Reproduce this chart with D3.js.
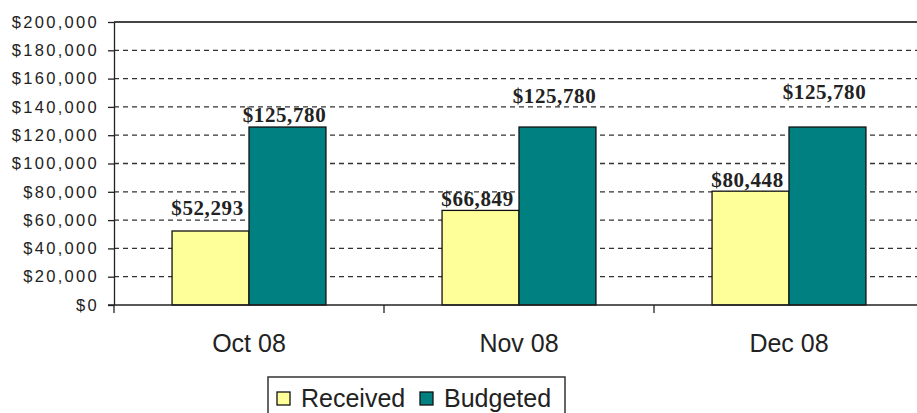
<!DOCTYPE html>
<html>
<head>
<meta charset="utf-8">
<script src="https://cdn.jsdelivr.net/npm/d3@7"></script>
<style>
  body { margin: 0; background: #fff; }
  svg { display: block; }
</style>
</head>
<body>
<svg id="chart" width="917" height="413"></svg>
<script>
// values
const months = ["Oct 08", "Nov 08", "Dec 08"];
const received = [52293, 66849, 80448];
const budgeted = [125780, 125780, 125780];
const seriesNames = ["Received", "Budgeted"];
const yTicks = [0, 20000, 40000, 60000, 80000, 100000, 120000, 140000, 160000, 180000, 200000];

const colors = ["#ffff99", "#008080"];
// excel put the value labels at slightly different heights above the bars
const labelLift = [[16, 5], [4, 24], [4, 28]];

const svg = d3.select("#chart"),
      m = {top: 22, left: 114, bottom: 305, right: 924};

const x = d3.scaleBand().domain(months).range([m.left, m.right])
    .paddingInner(0.43).paddingOuter(0.215);
const xs = d3.scaleBand().domain(seriesNames).range([0, x.bandwidth()]);
const y = d3.scaleLinear().domain([0, 200000]).range([m.bottom, m.top]);
const fmt = d3.format("$,");

// grid
svg.append("g").selectAll("line").data(yTicks.filter(d => d > 0 && d < 200000)).enter().append("line")
    .attr("x1", m.left).attr("x2", m.right)
    .attr("y1", d => y(d)).attr("y2", d => y(d))
    .attr("stroke", "#333").attr("stroke-width", 1.3).attr("stroke-dasharray", "5,4");
svg.append("line").attr("x1", m.left).attr("x2", m.right)
    .attr("y1", y(200000)).attr("y2", y(200000))
    .attr("stroke", "#444").attr("stroke-width", 2);

// y axis
const ya = svg.append("g").attr("transform", "translate(" + m.left + ",0)")
    .call(d3.axisLeft(y).tickValues(yTicks).tickFormat(fmt).tickSize(6).tickSizeOuter(0).tickPadding(9));
ya.select(".domain").attr("stroke", "#222").attr("stroke-width", 1.3);
ya.selectAll(".tick line").attr("stroke", "#222").attr("stroke-width", 1.3);
ya.selectAll("text").attr("font-family", "Liberation Sans, Arial, sans-serif")
    .attr("font-size", 16.5).attr("letter-spacing", 2.3).attr("fill", "#222");

// bars
const rows = months.map((mo, i) => ({month: mo, vals: [received[i], budgeted[i]], i: i}));
const grp = svg.append("g").selectAll("g").data(rows).enter().append("g")
    .attr("transform", d => "translate(" + x(d.month) + ",0)");
grp.selectAll("rect").data(d => d.vals.map((v, j) => ({v: v, j: j, i: d.i}))).enter().append("rect")
    .attr("x", d => xs(seriesNames[d.j]))
    .attr("y", d => y(d.v))
    .attr("width", xs.bandwidth())
    .attr("height", d => y(0) - y(d.v))
    .attr("fill", d => colors[d.j])
    .attr("stroke", "#111").attr("stroke-width", 1.3);
grp.selectAll("text").data(d => d.vals.map((v, j) => ({v: v, j: j, i: d.i}))).enter().append("text")
    .attr("x", d => xs(seriesNames[d.j]) + xs.bandwidth() / 2 - 3)
    .attr("y", d => y(d.v) - labelLift[d.i][d.j])
    .attr("text-anchor", "middle")
    .attr("font-family", "Liberation Serif, Times New Roman, serif")
    .attr("font-weight", "bold").attr("font-size", 21).attr("letter-spacing", 0.6)
    .attr("fill", "#222")
    .text(d => fmt(d.v));

// x axis
const xa = svg.append("g").attr("transform", "translate(0," + m.bottom + ")");
xa.append("line").attr("x1", m.left - 6).attr("x2", m.right).attr("stroke", "#222").attr("stroke-width", 1.3);
const edges = months.map(d => x(d) - x.step() * 0.215).concat([m.right]);
xa.selectAll(".tk").data(edges).enter().append("line")
    .attr("x1", d => d).attr("x2", d => d).attr("y1", 0).attr("y2", 8)
    .attr("stroke", "#222").attr("stroke-width", 1.3);
xa.selectAll("text").data(months).enter().append("text")
    .attr("x", d => x(d) + x.bandwidth() / 2)
    .attr("y", 47)
    .attr("text-anchor", "middle")
    .attr("font-family", "Liberation Sans, Arial, sans-serif")
    .attr("font-size", 25).attr("fill", "#222")
    .text(d => d);

// legend
const lg = svg.append("g").attr("transform", "translate(268,377)");
lg.append("rect").attr("x", 0).attr("y", 0).attr("width", 297).attr("height", 50)
    .attr("fill", "#fff").attr("stroke", "#333").attr("stroke-width", 1.5);
const lx = [9, 152];
seriesNames.forEach((s, j) => {
    lg.append("rect").attr("x", lx[j]).attr("y", 15).attr("width", 13).attr("height", 13)
        .attr("fill", colors[j]).attr("stroke", "#111").attr("stroke-width", 1.3);
    lg.append("text").attr("x", lx[j] + 24).attr("y", 30)
        .attr("font-family", "Liberation Sans, Arial, sans-serif")
        .attr("font-size", 25).attr("fill", "#222").text(s);
});
</script>
</body>
</html>
